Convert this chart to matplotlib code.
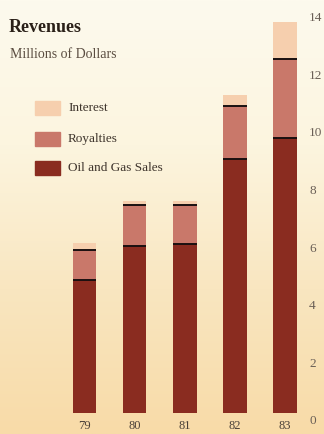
import numpy as np
import matplotlib
matplotlib.use("Agg")
import matplotlib.pyplot as plt
import matplotlib.transforms as mtransforms
from matplotlib.colors import LinearSegmentedColormap
from matplotlib.patches import Rectangle

# values (millions of dollars)
years = ["79", "80", "81", "82", "83"]
oil_gas = [4.6, 5.8, 5.85, 8.8, 9.55]
royalties = [1.05, 1.4, 1.35, 1.85, 2.75]
interest = [0.25, 0.15, 0.15, 0.4, 1.25]
y_ticks = [0, 2, 4, 6, 8, 10, 12, 14]

c_oil = "#8a2c20"
c_roy = "#c9786a"
c_int = "#f6cfae"

plt.rcParams['font.family'] = ['Liberation Serif', 'DejaVu Serif']

fig = plt.figure(figsize=(3.24, 4.34), dpi=100)
W, H = 324, 434

# paper-like background: cream at the top, peach towards the bottom
bg = fig.add_axes([0, 0, 1, 1], zorder=-10)
grad = np.linspace(0, 1, 256).reshape(-1, 1)
cmap = LinearSegmentedColormap.from_list("paper", ["#fdfaee", "#fcf5df", "#f9e6c0", "#f8dba8"])
bg.imshow(grad, aspect="auto", cmap=cmap, extent=[0, 1, 0, 1], origin="upper")
bg.axis("off")

ax = fig.add_axes([47 / W, 21 / H, 258 / W, 415 / H])
ax.set_facecolor("none")
x = np.arange(len(years))
bw = 0.47
b1 = np.array(oil_gas)
b2 = b1 + np.array(royalties)
ax.bar(x, oil_gas, bw, color=c_oil, zorder=2)
ax.bar(x, royalties, bw, bottom=b1, color=c_roy, zorder=2)
ax.bar(x, interest, bw, bottom=b2, color=c_int, zorder=2)
# thin black dividers between the segments
for xi, t1, t2 in zip(x, b1, b2):
    ax.plot([xi - bw / 2, xi + bw / 2], [t1, t1], color="#1a1010", lw=1.4, zorder=3, solid_capstyle="butt")
    ax.plot([xi - bw / 2, xi + bw / 2], [t2, t2], color="#1a1010", lw=1.4, zorder=3, solid_capstyle="butt")

ax.set_xlim(-0.75, 4.4)
ax.set_ylim(0, 14.4)
for s in ax.spines.values():
    s.set_visible(False)
ax.set_xticks(x)
ax.set_xticklabels(years)
ax.tick_params(axis="x", length=0, pad=5, labelsize=9, labelcolor="#4a4038")
ax.yaxis.tick_right()
ax.set_yticks(y_ticks)
ax.set_yticklabels([str(v) for v in y_ticks])
ax.tick_params(axis="y", length=0, pad=3, labelsize=9.5, labelcolor="#6a5f56")
for lab in ax.get_yticklabels():
    lab.set_transform(lab.get_transform() + mtransforms.ScaledTranslation(0, -7 / 100, fig.dpi_scale_trans))

# titles
fig.text(9 / W, 1 - 28 / H, "Revenues", fontsize=13, fontweight="bold", color="#2a2018", va="center")
fig.text(10 / W, 1 - 54 / H, "Millions of Dollars", fontsize=10, color="#5a4c40", va="center")

# legend
legend_items = [("Interest", c_int, 108), ("Royalties", c_roy, 139), ("Oil and Gas Sales", c_oil, 168)]
for name, col, yc in legend_items:
    fig.patches.append(Rectangle((35 / W, 1 - (yc + 7) / H), 25 / W, 14 / H,
                                 transform=fig.transFigure, color=col, zorder=1))
    fig.text(68 / W, 1 - yc / H, name, fontsize=9.5, color="#3e342c", va="center")

fig.savefig("out.png", dpi=100)
